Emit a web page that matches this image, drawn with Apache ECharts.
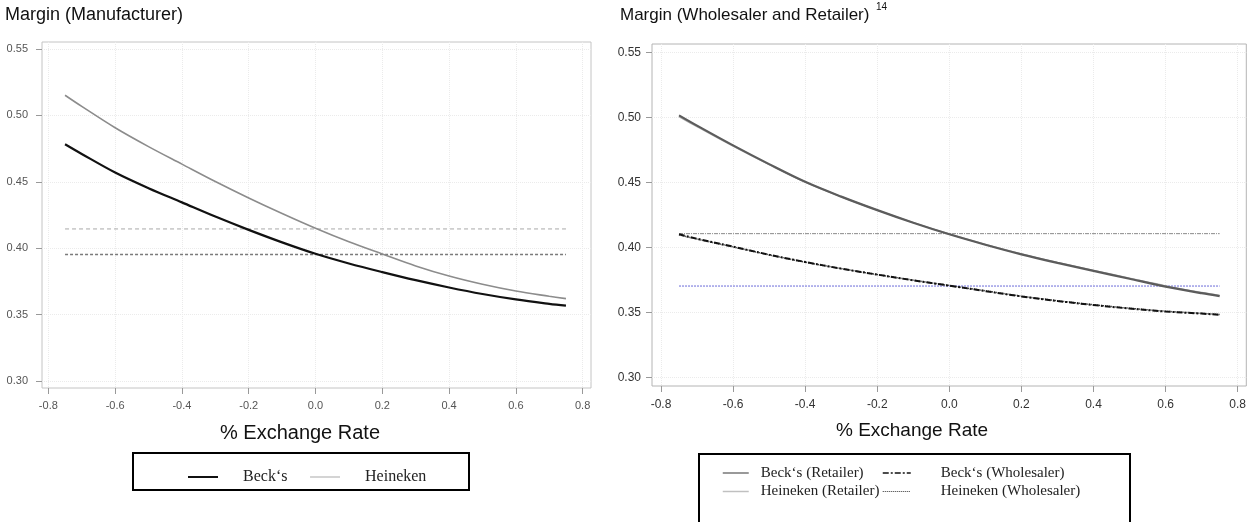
<!DOCTYPE html>
<html><head><meta charset="utf-8">
<script src="https://cdn.jsdelivr.net/npm/echarts@6/dist/echarts.min.js"></script>
<style>html,body{margin:0;padding:0;background:#fff}#c{width:1249px;height:522px}</style>
</head><body><div id="c"></div>
<script>
// ---- data ----
const xVals = [-0.75,-0.7,-0.6,-0.5,-0.4,-0.3,-0.2,-0.1,0,0.1,0.2,0.3,0.4,0.5,0.6,0.7,0.75];
const xTicks = [-0.8,-0.6,-0.4,-0.2,0,0.2,0.4,0.6,0.8];
const yTicks = [0.30,0.35,0.40,0.45,0.50,0.55];
// Left panel: Margin (Manufacturer)
const mfgBecks    = [0.4783,0.4710,0.4570,0.4452,0.4345,0.4238,0.4138,0.4044,0.3958,0.3885,0.3820,0.3759,0.3704,0.3655,0.3614,0.3581,0.3567];
const mfgHeineken = [0.5152,0.5068,0.4907,0.4765,0.4633,0.4502,0.4378,0.4261,0.4150,0.4048,0.3956,0.3866,0.3790,0.3728,0.3677,0.3638,0.3620];
const mfgRefBecks = 0.3952;
const mfgRefHeineken = 0.4145;
// Right panel: Margin (Wholesaler and Retailer)
const retBecks    = [0.5015,0.4936,0.4784,0.4640,0.4504,0.4390,0.4286,0.4189,0.4100,0.4020,0.3946,0.3880,0.3819,0.3758,0.3698,0.3647,0.3625];
const retHeineken = [0.5005,0.4928,0.4778,0.4636,0.4502,0.4389,0.4286,0.4190,0.4102,0.4022,0.3949,0.3883,0.3822,0.3762,0.3703,0.3652,0.3630];
const wsBecks     = [0.4100,0.4066,0.4005,0.3943,0.3887,0.3836,0.3790,0.3746,0.3705,0.3663,0.3622,0.3587,0.3556,0.3529,0.3506,0.3490,0.3481];
const wsHeineken  = [0.4096,0.4063,0.4003,0.3942,0.3886,0.3836,0.3790,0.3747,0.3706,0.3665,0.3624,0.3589,0.3558,0.3531,0.3508,0.3492,0.3483];
const wrRefRetail = 0.4105;
const wrRefWholesale = 0.3702;
const refX = [-0.75, 0.75];

const nBecks = 'Beck\u2018s', nHeineken = 'Heineken';
const nBR = 'Beck\u2018s (Retailer)', nHR = 'Heineken (Retailer)';
const nBW = 'Beck\u2018s (Wholesaler)', nHW = 'Heineken (Wholesaler)';

// ---- helpers ----
const zip = (ys) => xVals.map((x, i) => [x, ys[i]]);
const flat = (v) => refX.map(x => [x, v]);
const SANS = 'Liberation Sans', SERIF = 'Liberation Serif';

function xAxisCfg(gi, min, max, fs, col, margin) {
  return { type:'value', gridIndex:gi, min, max, position:'bottom',
    axisLine:{show:false, onZero:false},
    axisTick:{show:true, inside:false, length:6, lineStyle:{color:'#999'}, customValues:xTicks},
    axisLabel:{customValues:xTicks, formatter:v=>v.toFixed(1), fontSize:fs, color:col, margin, fontFamily:SANS},
    splitLine:{show:true, lineStyle:{color:'#ebebeb', type:'dotted', width:1}} };
}
function yAxisCfg(gi, min, max, fs, col, margin) {
  return { type:'value', gridIndex:gi, min, max, position:'left',
    axisLine:{show:false, onZero:false},
    axisTick:{show:true, inside:false, length:6, lineStyle:{color:'#999'}, customValues:yTicks},
    axisLabel:{customValues:yTicks, formatter:v=>v.toFixed(2), fontSize:fs, color:col, margin, fontFamily:SANS},
    splitLine:{show:true, lineStyle:{color:'#ebebeb', type:'dotted', width:1}} };
}
function line(name, data, gi, color, width, type, smooth, z) {
  return { type:'line', name, data, xAxisIndex:gi, yAxisIndex:gi, symbol:'none', smooth: smooth ? 0.35 : false,
    lineStyle:{color, width, type}, itemStyle:{color}, z: z || 2, silent:true };
}

const chart = echarts.init(document.getElementById('c'), null, {renderer:'canvas'});
chart.setOption({
  animation:false,
  backgroundColor:'#fff',
  grid:[
    {left:42, top:42, width:549, height:346, show:true, borderColor:'#c4c4c4', borderWidth:1, backgroundColor:'transparent'},
    {left:652, top:44, width:595, height:342, show:true, borderColor:'#b4b4b4', borderWidth:1, backgroundColor:'transparent'}
  ],
  xAxis:[ xAxisCfg(0, -0.819, 0.825, 11, '#555', 12), xAxisCfg(1, -0.825, 0.824, 12, '#333', 13) ],
  yAxis:[ yAxisCfg(0, 0.2947, 0.5553, 11, '#555', 14), yAxisCfg(1, 0.2933, 0.5564, 12, '#333', 11) ],
  legend:[
    {left:187, top:468, orient:'horizontal', data:[nBecks, {name:nHeineken, lineStyle:{color:'#b8b8b8', width:1.2}}], itemWidth:30, itemHeight:14, itemGap:22, padding:0,
     selectedMode:false, itemStyle:{opacity:0},
     textStyle:{fontFamily:SERIF, fontSize:16, color:'#222', padding:[0,0,0,20], lineHeight:18}},
    {left:722, top:465, orient:'vertical', data:[{name:nBR, lineStyle:{color:'#777', width:1.5}}, {name:nHR, lineStyle:{color:'#c0c0c0', width:1.5}}], itemWidth:26, itemHeight:14, itemGap:2.5, padding:0,
     selectedMode:false, itemStyle:{opacity:0},
     textStyle:{fontFamily:SERIF, fontSize:15, color:'#222', padding:[0,0,0,7], lineHeight:16}},
    {left:882, top:465, orient:'vertical', data:[{name:nBW, lineStyle:{width:1.5}}, {name:nHW, lineStyle:{width:1}}], itemWidth:28, itemHeight:14, itemGap:2.5, padding:0,
     selectedMode:false, itemStyle:{opacity:0},
     textStyle:{fontFamily:SERIF, fontSize:15, color:'#222', padding:[0,0,0,25], lineHeight:16}}
  ],
  series:[
    line('refH0', flat(mfgRefHeineken), 0, '#a8a8a8', 1, [4,3], false),
    line('refB0', flat(mfgRefBecks), 0, '#7a7a7a', 1.5, [3,2], false),
    line(nHeineken, zip(mfgHeineken), 0, '#8c8c8c', 1.6, 'solid', true, 3),
    line(nBecks, zip(mfgBecks), 0, '#111111', 2.2, 'solid', true, 4),

    line('refR1', flat(wrRefRetail), 1, '#8a8a8a', 1, [4,1,1,1], false),
    line('refW1', flat(wrRefWholesale), 1, '#6a6ad8', 1, [2,1], false),
    line(nHR, zip(retHeineken), 1, '#a8a8a8', 1.5, 'solid', true, 3),
    line(nBR, zip(retBecks), 1, '#5c5c5c', 2.2, 'solid', true, 4),
    line(nHW, zip(wsHeineken), 1, '#333333', 1.5, [1,1], true, 3),
    line(nBW, zip(wsBecks), 1, '#111111', 2, [6,2,2,2], true, 4)
  ],
  graphic:[
    {type:'text', x:5, y:15, style:{text:'Margin (Manufacturer)', fontSize:18, fontFamily:SANS, fill:'#111', align:'left', verticalAlign:'middle'}},
    {type:'text', x:620, y:15, style:{text:'Margin (Wholesaler and Retailer)', fontSize:17, fontFamily:SANS, fill:'#111', align:'left', verticalAlign:'middle'}},
    {type:'text', x:876, y:2, style:{text:'14', fontSize:10, fontFamily:SANS, fill:'#111', align:'left', verticalAlign:'top'}},
    {type:'text', x:300, y:433, style:{text:'% Exchange Rate', fontSize:20, fontFamily:SANS, fill:'#111', align:'center', verticalAlign:'middle'}},
    {type:'text', x:912, y:431, style:{text:'% Exchange Rate', fontSize:19, fontFamily:SANS, fill:'#111', align:'center', verticalAlign:'middle'}},
    {type:'rect', shape:{x:133, y:453, width:336, height:37}, style:{fill:'none', stroke:'#000', lineWidth:2}},
    {type:'rect', shape:{x:699, y:454, width:431, height:80}, style:{fill:'none', stroke:'#000', lineWidth:2}}
  ]
});
</script></body></html>
